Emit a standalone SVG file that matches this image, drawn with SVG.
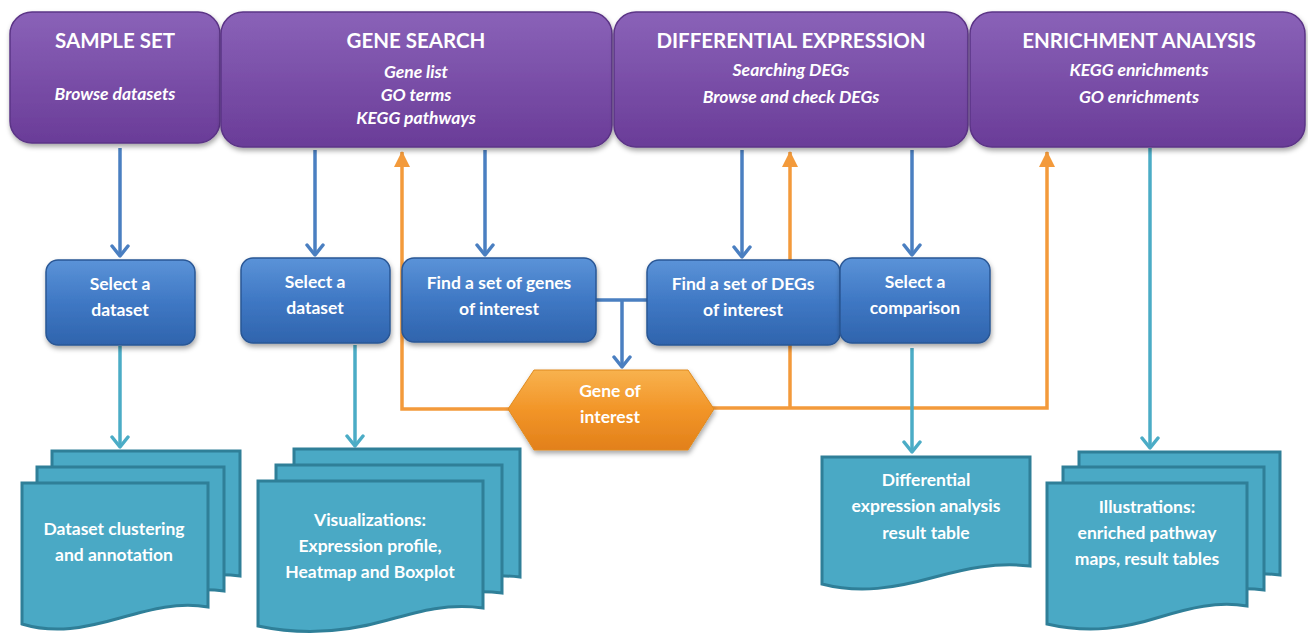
<svg xmlns="http://www.w3.org/2000/svg" width="1308" height="640" viewBox="0 0 1308 640">
<defs>
  <linearGradient id="gPurple" x1="0" y1="0" x2="0" y2="1">
    <stop offset="0" stop-color="#8a62b8"/>
    <stop offset="0.5" stop-color="#7a4fa8"/>
    <stop offset="1" stop-color="#6a3c98"/>
  </linearGradient>
  <linearGradient id="gBlue" x1="0" y1="0" x2="0" y2="1">
    <stop offset="0" stop-color="#5b93d8"/>
    <stop offset="0.5" stop-color="#3f78c4"/>
    <stop offset="1" stop-color="#2f64ad"/>
  </linearGradient>
  <linearGradient id="gOrange" x1="0" y1="0" x2="0" y2="1">
    <stop offset="0" stop-color="#f8b24e"/>
    <stop offset="0.5" stop-color="#f29528"/>
    <stop offset="1" stop-color="#e2801a"/>
  </linearGradient>
  <filter id="shadow" x="-10%" y="-10%" width="125%" height="130%">
    <feDropShadow dx="1" dy="3" stdDeviation="2.5" flood-color="#000" flood-opacity="0.35"/>
  </filter>
  <marker id="mBlue" viewBox="0 0 14 20" refX="12" refY="10" markerWidth="14" markerHeight="20" markerUnits="userSpaceOnUse" orient="auto">
    <polyline points="2,2 12,10 2,18" fill="none" stroke="#4a7fc1" stroke-width="3.5" stroke-linecap="round" stroke-linejoin="round"/>
  </marker>
  <marker id="mTeal" viewBox="0 0 14 20" refX="12" refY="10" markerWidth="14" markerHeight="20" markerUnits="userSpaceOnUse" orient="auto">
    <polyline points="2,2 12,10 2,18" fill="none" stroke="#4bacc6" stroke-width="3.5" stroke-linecap="round" stroke-linejoin="round"/>
  </marker>
  <marker id="mOrangeUp" viewBox="0 0 16 16" refX="8" refY="1" markerWidth="16" markerHeight="16" markerUnits="userSpaceOnUse" orient="0">
    <polygon points="8,0 16,16 0,16" fill="#f39a3b"/>
  </marker>
</defs>
<style>
  .pbox { fill: url(#gPurple); stroke: #5b3486; stroke-width: 1.5; filter: url(#shadow); }
  .bbox { fill: url(#gBlue); stroke: #2a5795; stroke-width: 1.5; filter: url(#shadow); }
  .doc { fill: #4aa9c5; stroke: #2f7f98; stroke-width: 3; }
  .hex { fill: url(#gOrange); stroke: #e08a1e; stroke-width: 1; filter: url(#shadow); }
  .title { font-family: Lato, "Liberation Sans", sans-serif; font-weight: bold; font-size: 20.5px; fill: #fff; text-anchor: middle; }
  .sub { font-family: Lato, "Liberation Sans", sans-serif; font-weight: bold; font-style: italic; font-size: 17.5px; fill: #fff; text-anchor: middle; }
  .lbl { font-family: Lato, "Liberation Sans", sans-serif; font-weight: bold; font-size: 17.5px; fill: #fff; text-anchor: middle; }
  .cb { fill: none; stroke: #4a7fc1; stroke-width: 3.5; }
  .ct { fill: none; stroke: #4bacc6; stroke-width: 3.5; }
  .co { fill: none; stroke: #f39a3b; stroke-width: 3.5; }
</style>

<g id="connectors">
  <line class="cb" x1="120" y1="148" x2="120" y2="256" marker-end="url(#mBlue)"/>
  <line class="cb" x1="315" y1="150" x2="315" y2="255" marker-end="url(#mBlue)"/>
  <line class="cb" x1="485" y1="150" x2="485" y2="255" marker-end="url(#mBlue)"/>
  <line class="cb" x1="742" y1="150" x2="742" y2="257" marker-end="url(#mBlue)"/>
  <line class="cb" x1="912" y1="150" x2="912" y2="255" marker-end="url(#mBlue)"/>
  <line class="cb" x1="596" y1="300" x2="648" y2="300"/>
  <line class="cb" x1="622" y1="300" x2="622" y2="367" marker-end="url(#mBlue)"/>
  <polyline class="co" points="510,409 402,409 402,152" marker-end="url(#mOrangeUp)"/>
  <polyline class="co" points="712,408 1047,408 1047,152" marker-end="url(#mOrangeUp)"/>
  <line class="co" x1="790" y1="408" x2="790" y2="152" marker-end="url(#mOrangeUp)"/>
  <line class="ct" x1="120" y1="346" x2="120" y2="447" marker-end="url(#mTeal)"/>
  <line class="ct" x1="355" y1="345" x2="355" y2="446" marker-end="url(#mTeal)"/>
  <line class="ct" x1="912" y1="348" x2="912" y2="452" marker-end="url(#mTeal)"/>
  <line class="ct" x1="1150" y1="148" x2="1150" y2="448" marker-end="url(#mTeal)"/>
</g>

<g id="sample-set">
  <rect class="pbox" x="10" y="12" width="210" height="131" rx="22"/>
  <text class="title" x="115" y="48">SAMPLE SET</text>
  <text class="sub" x="115" y="100">Browse datasets</text>
</g>
<g id="gene-search">
  <rect class="pbox" x="221" y="12" width="391" height="135" rx="22"/>
  <text class="title" x="416" y="48">GENE SEARCH</text>
  <text class="sub" x="416" y="78">Gene list</text>
  <text class="sub" x="416" y="101">GO terms</text>
  <text class="sub" x="416" y="124">KEGG pathways</text>
</g>
<g id="differential-expression">
  <rect class="pbox" x="614" y="12" width="354" height="135" rx="22"/>
  <text class="title" x="791" y="48">DIFFERENTIAL EXPRESSION</text>
  <text class="sub" x="791" y="76">Searching DEGs</text>
  <text class="sub" x="791" y="103">Browse and check DEGs</text>
</g>
<g id="enrichment-analysis">
  <rect class="pbox" x="970" y="12" width="335" height="135" rx="22"/>
  <text class="title" x="1139" y="48">ENRICHMENT ANALYSIS</text>
  <text class="sub" x="1139" y="76">KEGG enrichments</text>
  <text class="sub" x="1139" y="103">GO enrichments</text>
</g>

<g id="select-dataset-1">
  <rect class="bbox" x="46" y="260" width="149" height="85" rx="12"/>
  <text class="lbl" x="120" y="290">Select a</text>
  <text class="lbl" x="120" y="316">dataset</text>
</g>
<g id="select-dataset-2">
  <rect class="bbox" x="241" y="258" width="149" height="85" rx="12"/>
  <text class="lbl" x="315" y="288">Select a</text>
  <text class="lbl" x="315" y="314">dataset</text>
</g>
<g id="find-genes">
  <rect class="bbox" x="402" y="258" width="194" height="84" rx="12"/>
  <text class="lbl" x="499" y="289">Find a set of genes</text>
  <text class="lbl" x="499" y="315">of interest</text>
</g>
<g id="find-degs">
  <rect class="bbox" x="647" y="260" width="193" height="85" rx="12"/>
  <text class="lbl" x="743" y="290">Find a set of DEGs</text>
  <text class="lbl" x="743" y="316">of interest</text>
</g>
<g id="select-comparison">
  <rect class="bbox" x="840" y="258" width="150" height="85" rx="12"/>
  <text class="lbl" x="915" y="288">Select a</text>
  <text class="lbl" x="915" y="314">comparison</text>
</g>

<g id="gene-of-interest">
  <polygon class="hex" points="508,409 534,370 688,370 714,409 688,450 534,450"/>
  <text class="lbl" x="610" y="397">Gene of</text>
  <text class="lbl" x="610" y="423">interest</text>
</g>

<g id="dataset-clustering">
  <path class="doc" d="M52,451 H240 V576 C210,572 185,578 160,586 C130,594 100,598 52,590 Z"/>
  <path class="doc" d="M37,467 H224 V591 C195,587 170,593 145,601 C115,609 85,613 37,605 Z"/>
  <path class="doc" d="M22,483 H208 V607 C178,602 152,609 120,618 C85,628 55,634 22,624 Z"/>
  <text class="lbl" x="114" y="535">Dataset clustering</text>
  <text class="lbl" x="114" y="561">and annotation</text>
</g>

<g id="visualizations">
  <path class="doc" d="M294,449 H520 V577 C485,573 455,580 425,588 C390,597 350,600 294,592 Z"/>
  <path class="doc" d="M276,465 H502 V593 C467,589 437,596 407,604 C372,613 332,616 276,608 Z"/>
  <path class="doc" d="M258,481 H483 V608 C448,603 420,611 388,620 C350,631 305,636 258,626 Z"/>
  <text class="lbl" x="370" y="526">Visualizations:</text>
  <text class="lbl" x="370" y="552">Expression profile,</text>
  <text class="lbl" x="370" y="578">Heatmap and Boxplot</text>
</g>

<g id="de-result-table">
  <path class="doc" d="M822,457 H1030 V566 C995,562 965,569 935,577 C895,588 860,594 822,584 Z"/>
  <text class="lbl" x="926" y="486">Differential</text>
  <text class="lbl" x="926" y="512">expression analysis</text>
  <text class="lbl" x="926" y="539">result table</text>
</g>

<g id="illustrations">
  <path class="doc" d="M1079,452 H1280 V575 C1250,571 1225,577 1200,585 C1170,594 1130,597 1079,589 Z"/>
  <path class="doc" d="M1063,467 H1264 V590 C1234,586 1209,592 1184,600 C1154,609 1114,612 1063,604 Z"/>
  <path class="doc" d="M1047,483 H1247 V606 C1217,601 1190,608 1160,617 C1125,628 1090,634 1047,624 Z"/>
  <text class="lbl" x="1147" y="513">Illustrations:</text>
  <text class="lbl" x="1147" y="539">enriched pathway</text>
  <text class="lbl" x="1147" y="565">maps, result tables</text>
</g>
</svg>
